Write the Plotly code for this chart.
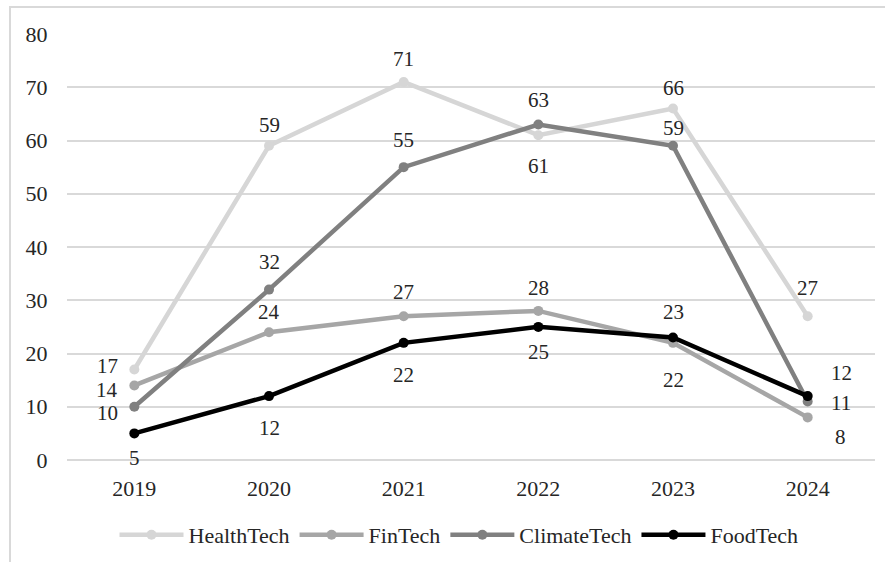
import plotly.graph_objects as go

years = ["2019", "2020", "2021", "2022", "2023", "2024"]
series_names = ["HealthTech", "FinTech", "ClimateTech", "FoodTech"]
healthtech = [17, 59, 71, 61, 66, 27]
fintech = [14, 24, 27, 28, 22, 8]
climatetech = [10, 32, 55, 63, 59, 11]
foodtech = [5, 12, 22, 25, 23, 12]
y_ticks = [0, 10, 20, 30, 40, 50, 60, 70, 80]

values = [healthtech, fintech, climatetech, foodtech]
colors = ["#d6d6d6", "#a6a6a6", "#808080", "#000000"]

# label offsets in pixels (dx, dy up-positive) per point
label_offsets = [
    [(-27, 3), (0, 21), (0, 23), (0, -31), (0, 21), (0, 28)],
    [(-27, -5), (0, 20), (0, 24), (0, 23), (0, -37), (33, -20)],
    [(-27, -6), (0, 28), (0, 27), (0, 25), (0, 18), (33, -2)],
    [(0, -25), (0, -32), (0, -32), (0, -25), (0, 26), (34, 23)],
]

FONT = "Liberation Serif, Times New Roman, serif"
TXT = "#262626"

fig = go.Figure()
for name, vals, col in zip(series_names, values, colors):
    fig.add_trace(go.Scatter(
        x=years, y=vals, name=name, mode="lines+markers",
        line=dict(color=col, width=4.5),
        marker=dict(color=col, size=10),
    ))

annotations = []
for vals, offs in zip(values, label_offsets):
    for i, (v, (dx, dy)) in enumerate(zip(vals, offs)):
        annotations.append(dict(
            x=i, y=v, xref="x", yref="y", text=str(v), showarrow=False,
            xshift=dx, yshift=dy,
            font=dict(family=FONT, size=21, color=TXT),
        ))

# frame around the chart area (paper coords computed from plot area)
L, T, W, H = 67, 34, 808, 426
def px_x(p):
    return (p - L) / W
def px_y(p):
    return (T + H - p) / H

fig.update_layout(
    width=885, height=562,
    margin=dict(l=L, r=885 - L - W, t=T, b=562 - T - H, autoexpand=False),
    paper_bgcolor="white", plot_bgcolor="white",
    font=dict(family=FONT, size=21, color=TXT),
    showlegend=True,
    legend=dict(
        orientation="h", x=px_x(459), y=px_y(535),
        xanchor="center", yanchor="middle",
        font=dict(family=FONT, size=22, color=TXT),
        itemwidth=64, tracegroupgap=0,
    ),
    annotations=annotations,
    shapes=[dict(
        type="rect", xref="paper", yref="paper",
        x0=px_x(10), x1=px_x(900), y0=px_y(7), y1=px_y(600),
        line=dict(color="#d9d9d9", width=2), fillcolor="rgba(0,0,0,0)",
        layer="below",
    )],
)
fig.update_xaxes(
    type="category", range=[-0.5, 5.5],
    showgrid=False, showline=False, zeroline=False,
    ticks="outside", ticklen=9, tickcolor="rgba(0,0,0,0)",
    tickfont=dict(family=FONT, size=22, color=TXT),
)
fig.update_yaxes(
    range=[0, 80], tickvals=y_ticks,
    showgrid=True, gridcolor="#d9d9d9", gridwidth=2,
    zeroline=True, zerolinecolor="#d9d9d9", zerolinewidth=2,
    showline=False,
    ticks="outside", ticklen=14, tickcolor="rgba(0,0,0,0)",
    tickfont=dict(family=FONT, size=22, color=TXT),
)

fig.write_html(
    "out.html",
    config={"displayModeBar": False},
    post_script="document.body.style.margin='0';",
)
